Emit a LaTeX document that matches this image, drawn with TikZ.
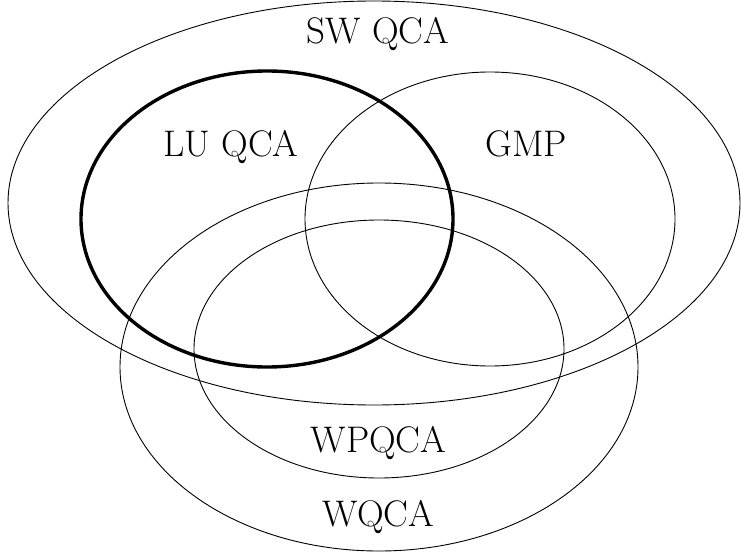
\documentclass[tikz,border=0pt]{standalone}
\begin{document}
\begin{tikzpicture}[x=1pt,y=-1pt,
  setline/.style={draw=black,line width=0.9pt},
  mainset/.style={draw=black,line width=3.4pt},
  setlabel/.style={anchor=base,inner sep=0pt,font=\fontsize{37}{44}\selectfont}]
\useasboundingbox (0,0) rectangle (741,559);
% outer class
\draw[setline] (374,203) ellipse [x radius=366pt,y radius=202pt];
% overlapping classes
\draw[setline] (490,219) ellipse [x radius=185pt,y radius=147pt];
\draw[setline] (379,367) ellipse [x radius=259pt,y radius=184pt];
\draw[setline] (379,349) ellipse [x radius=185pt,y radius=129pt];
% highlighted class
\draw[mainset] (267,219) ellipse [x radius=186pt,y radius=148pt];
% labels
\node[setlabel] (sw) at (378,44) {SW QCA};
\node[setlabel] (lu) at (231,156) {LU QCA};
\node[setlabel] (gmp) at (526,156) {GMP};
\node[setlabel] (wp) at (378.5,452) {WPQCA};
\node[setlabel] (w) at (378.5,526) {WQCA};
\end{tikzpicture}
\end{document}
